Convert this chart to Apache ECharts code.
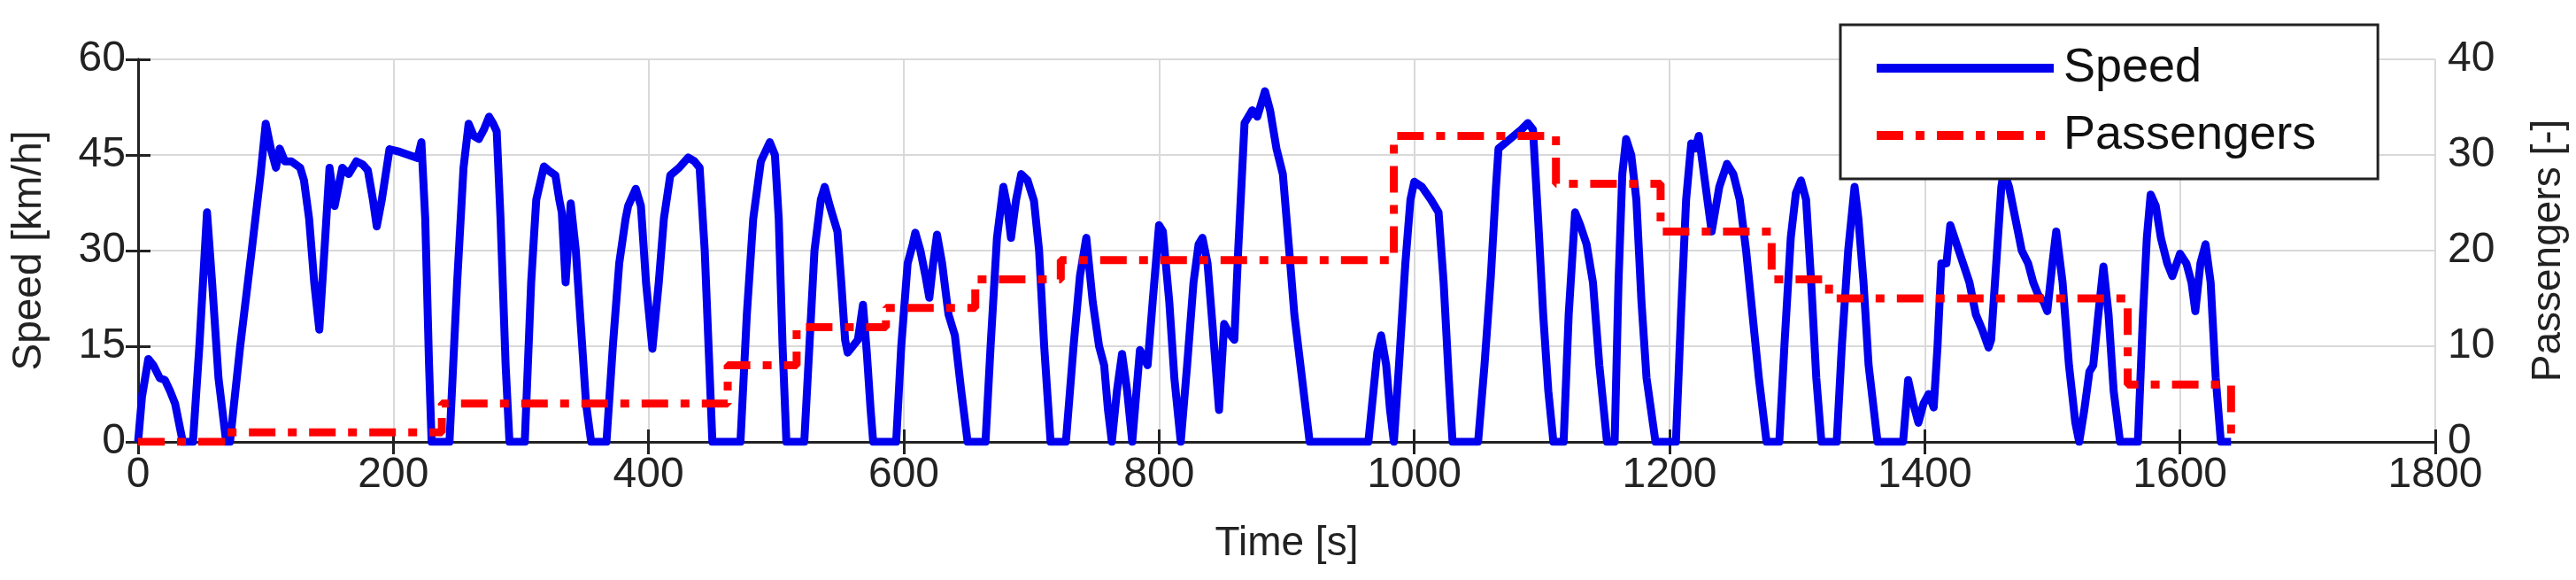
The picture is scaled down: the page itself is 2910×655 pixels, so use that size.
<!DOCTYPE html>
<html>
<head>
<meta charset="utf-8">
<script src="https://cdn.jsdelivr.net/npm/echarts@6/dist/echarts.min.js"></script>
<style>
  html, body { margin: 0; padding: 0; background: #fff; }
  #chart { width: 2910px; height: 655px; }
</style>
</head>
<body>
<div id="chart"></div>
<script>
// speed trace (time s / km/h)
const speedTime = [0,3,8,12,17,21,25,29,35,43,48,54,58,63,69,72,80,89,96,100,104,108,111,115,120,127,130,134,138,142,146,150,154,157,160,165,171,176,180,184,187,191,197,205,212,219,222,225,228,230,244,250,255,259,263,267,271,275,278,281,284,288,291,303,308,312,318,322,327,330,332,335,339,343,347,351,355,367,372,377,382,384,390,394,398,403,408,412,417,424,431,436,440,444,447,450,472,477,482,488,495,499,502,505,508,522,526,530,535,538,542,548,551,554,556,560,564,568,571,574,576,594,598,603,607,609,613,617,620,623,626,630,635,640,645,650,664,668,673,678,681,684,688,692,697,702,706,710,715,727,733,738,743,748,753,757,760,763,767,771,775,779,785,791,795,800,803,808,812,817,822,827,831,834,838,842,847,851,855,859,862,867,873,877,883,887,892,897,902,906,912,918,964,968,971,974,978,981,984,988,993,997,1000,1006,1013,1019,1023,1027,1030,1050,1055,1060,1064,1066,1072,1078,1084,1089,1093,1097,1101,1105,1109,1117,1121,1126,1130,1135,1140,1145,1151,1157,1160,1163,1166,1170,1174,1178,1182,1189,1205,1209,1213,1217,1220,1223,1227,1233,1239,1245,1250,1255,1260,1265,1270,1276,1286,1290,1295,1299,1303,1307,1311,1315,1319,1331,1335,1340,1345,1348,1352,1356,1363,1383,1387,1391,1395,1399,1403,1407,1410,1413,1417,1420,1425,1430,1435,1440,1445,1450,1452,1456,1460,1462,1466,1471,1476,1481,1485,1489,1493,1496,1500,1503,1508,1513,1518,1521,1525,1529,1532,1536,1540,1544,1548,1553,1567,1571,1574,1577,1581,1585,1590,1594,1600,1605,1609,1612,1616,1620,1624,1628,1632,1640];
const speedVal = [0,7,13,12,10,9.7,8,6,0,0,15,36,25,10,0,0,15,30,42,49.9,46,43,46,44,44,43,41,35,25,17.6,30,43,37,40,43,42,44,43.5,42.6,38,33.8,38,45.9,45.5,45,44.5,47,35,12,0,0,25,43,49.9,48,47.5,49,51,50,48.7,35,12,0,0,25,38,43.2,42.5,41.8,38,36,25,37.4,30,18,6,0,0,15,28,35,37,39.7,37,25,14.6,25,35,41.8,43,44.6,44,43,30,15,0,0,20,35,44,47,45,35,15,0,0,15,30,38,40,37,33,25,16,14,15,16,21.5,14,5,0,0,15,28,31,32.8,30,26,22.6,28,32.5,28,20,16.7,8,0,0,15,32,40,37,32,38,42,41,37.8,30,15,0,0,15,26,32,22,15,12,5,0,8,13.8,8,0,14.4,12,22,34,33,22,10,0,12,25,31,32,28,18,5,18.5,17,16,30,50,52,51,55,52,46,42,30,20,10,0,0,8,14,16.7,12,5,0,12,28,38,40.8,40,38,36,25,10,0,0,12,26,40,46,47,48,49,50,49,35,20,8,0,0,20,36,34,31,25,12,0,0,25,42,47.5,45,38,22,10,0,0,20,38,46.8,46,48,42,33,40,43.6,42,38,30,20,10,0,0,15,32,39,41,38,25,10,0,0,15,30,40,35,25,12,0,0,9.7,6,3,6,7.5,5.4,15,28,28,34,31,28,25,20,17.6,14.8,16,28,40,42.5,40,35,30,28,25,23,22,20.5,28,33,25,12,3,0,5,11,12,20,27.5,20,8,0,0,20,32,38.8,37,32,28,26,29.5,28,25,20.5,28,31,25,10,0,0];

// passenger count, value held from each change time
const paxTime = [0,69,238,462,516,586,656,723,984,1111,1193,1280,1325,1559,1640];
const paxVal = [0,1,4,8,12,14,17,19,32,27,22,17,15,6,0];

const font = 'Liberation Sans';

const myChart = echarts.init(document.getElementById('chart'));

const axisText = { color: '#222', fontSize: 48, fontFamily: font };
const nameText = { color: '#222', fontSize: 46, fontFamily: font };
const gridLine = { show: true, lineStyle: { color: '#d9d9d9', width: 2 } };
const blackLine = { show: true, lineStyle: { color: '#222', width: 3 } };
const tick = { show: true, inside: true, length: 14, lineStyle: { color: '#222', width: 3 } };

const option = {
    animation: false,
    backgroundColor: '#fff',
    grid: { left: 156, right: 148, top: 67, bottom: 156 },
    legend: {
        orient: 'vertical',
        left: 2079,
        top: 28,
        padding: [22, 70, 22, 36],
        itemGap: 22,
        itemWidth: 200,
        itemHeight: 14,
        backgroundColor: '#fff',
        borderColor: '#222',
        borderWidth: 3,
        itemStyle: { opacity: 0 },
        lineStyle: { width: 10 },
        textStyle: { color: '#111', fontSize: 54, fontFamily: font, padding: [0, 0, 0, 6] },
        data: ['Speed', 'Passengers']
    },
    xAxis: [{
        type: 'value',
        min: 0, max: 1800, interval: 200,
        name: 'Time [s]',
        nameLocation: 'middle',
        nameGap: 92,
        nameTextStyle: nameText,
        axisLabel: Object.assign({ margin: 14, formatter: v => String(v) }, axisText),
        axisLine: blackLine,
        axisTick: tick,
        splitLine: gridLine
    }, {
        type: 'value',
        position: 'top',
        min: 0, max: 1800, interval: 200,
        axisLabel: { show: false },
        axisLine: blackLine,
        axisTick: tick,
        splitLine: { show: false }
    }],
    yAxis: [{
        type: 'value',
        min: 0, max: 60, interval: 15,
        name: 'Speed [km/h]',
        nameLocation: 'middle',
        nameGap: 100,
        nameTextStyle: nameText,
        axisLabel: Object.assign({ margin: 14 }, axisText),
        axisLine: blackLine,
        axisTick: tick,
        splitLine: gridLine
    }, {
        type: 'value',
        min: 0, max: 40, interval: 10,
        name: 'Passengers [-]',
        nameLocation: 'middle',
        nameGap: 105,
        nameRotate: 90,
        nameTextStyle: nameText,
        axisLabel: Object.assign({ margin: 14 }, axisText),
        axisLine: blackLine,
        axisTick: tick,
        splitLine: { show: false }
    }],
    series: [{
        name: 'Speed',
        type: 'line',
        xAxisIndex: 0,
        yAxisIndex: 0,
        showSymbol: false,
        symbol: 'none',
        data: speedTime.map((t, i) => [t, speedVal[i]]),
        lineStyle: { color: '#0000ee', width: 9, join: 'round' },
        itemStyle: { color: '#0000ee' },
        z: 2
    }, {
        name: 'Passengers',
        type: 'line',
        xAxisIndex: 0,
        yAxisIndex: 1,
        step: 'end',
        showSymbol: false,
        symbol: 'none',
        data: paxTime.map((t, i) => [t, paxVal[i]]),
        lineStyle: { color: '#ff0000', width: 9, type: [30, 14, 10, 14] },
        itemStyle: { color: '#ff0000' },
        z: 3
    }]
};

myChart.setOption(option);
</script>
</body>
</html>
